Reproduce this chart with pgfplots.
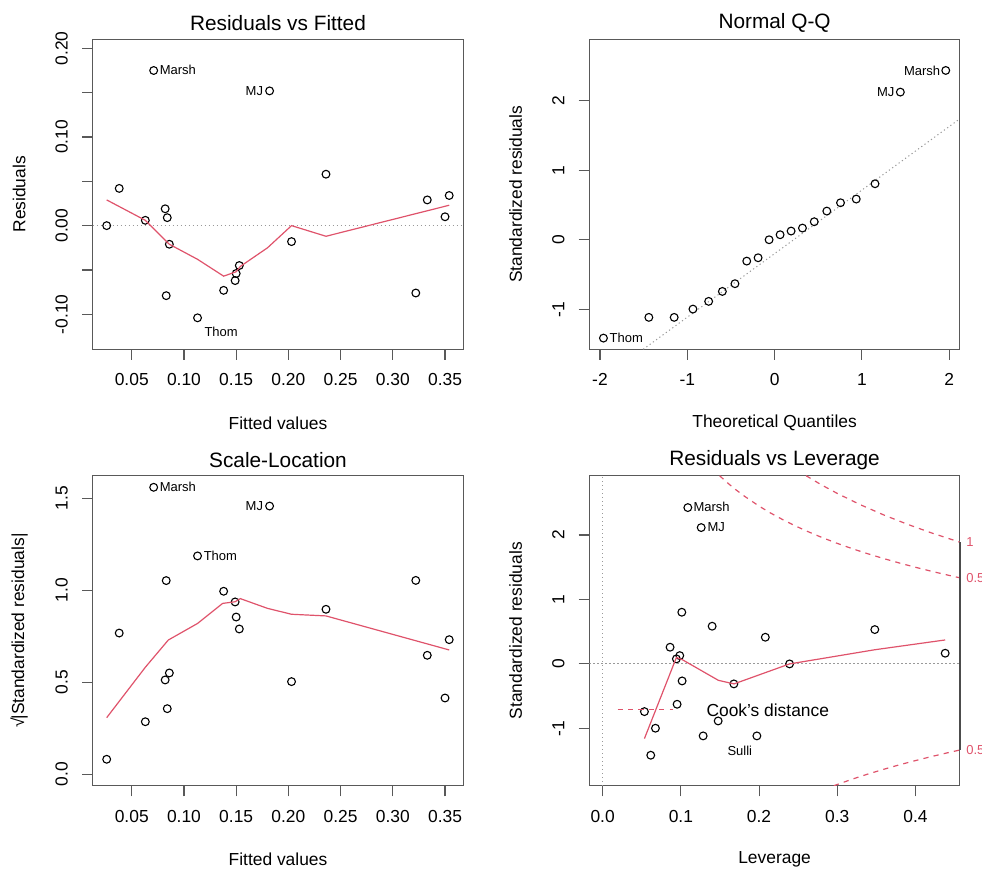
\documentclass[border=0pt]{standalone}
\usepackage{fontspec}
\setmainfont{Liberation Sans}
\usepackage{pgfplots}
\pgfplotsset{compat=1.18}
\definecolor{rred}{HTML}{DF536B}
\newcommand{\idf}{\fontsize{6.5}{7}\selectfont}
\newcommand{\basef}{\fontsize{8.7}{10}\selectfont}
\newcommand{\titf}{\fontsize{10.4}{12}\selectfont}
\pgfplotsset{
 rplot/.style={
  scale only axis, width=185.3pt, height=155pt,
  clip mode=individual,
  axis line style={black!65, line width=0.55pt},
  tick style={black!65, line width=0.55pt},
  tick align=outside, major tick length=5.3pt,
  xtick pos=lower, ytick pos=left,
  ticklabel style={font=\basef, inner sep=0pt},
  xticklabel style={anchor=center, yshift=-10pt},
  yticklabel style={anchor=center, xshift=-10.2pt, rotate=90},
 },
 pts/.style={only marks, mark=o, mark size=1.95pt, mark options={line width=0.55pt, black}},
 low/.style={rred, line width=0.6pt, no marks},
 ref/.style={black!40, line width=0.5pt, dash pattern=on 0.6pt off 1.4pt},
 cook/.style={rred, line width=0.6pt, dash pattern=on 2.6pt off 2.6pt, no marks},
}
\begin{document}
\begin{tikzpicture}
\useasboundingbox (0,0) rectangle (491pt,-435.5pt);
% ---------- Residuals vs Fitted
\begin{axis}[rplot, at={(46.35pt,-19.65pt)}, anchor=north west,
  xmin=0.0126, xmax=0.3675, ymin=-0.1395, ymax=0.2102,
  xtick={0.05,0.10,...,0.36}, xticklabels={0.05,0.10,0.15,0.20,0.25,0.30,0.35},
  ytick={-0.10,-0.05,0,0.05,0.10,0.15,0.20}, yticklabels={-0.10,,0.00,,0.10,,0.20}]
\addplot[ref] coordinates {(0.0126,0) (0.3675,0)};
\addplot[pts] table {
x y
0.026 0.000
0.038 0.042
0.063 0.006
0.082 0.019
0.084 0.009
0.086 -0.021
0.083 -0.079
0.071 0.175
0.113 -0.104
0.138 -0.073
0.149 -0.062
0.150 -0.054
0.153 -0.045
0.182 0.152
0.203 -0.018
0.236 0.058
0.322 -0.076
0.333 0.029
0.350 0.010
0.354 0.034
};
\addplot[low] coordinates {(0.026,0.029) (0.063,0.006) (0.086,-0.021) (0.113,-0.038) (0.138,-0.057) (0.150,-0.052) (0.154,-0.046) (0.180,-0.025) (0.203,0.000) (0.236,-0.012) (0.354,0.023)};
\node[font=\idf, anchor=west, inner sep=0pt] at (axis cs:0.0765,0.1752) {Marsh};
\node[font=\idf, anchor=east, inner sep=0pt] at (axis cs:0.1761,0.1519) {MJ};
\node[font=\idf, anchor=west, inner sep=0pt] at (axis cs:0.1193,-0.1203) {Thom};
\node[font=\titf, yshift=8.3pt] at (rel axis cs:0.5,1) {Residuals vs Fitted};
\node[font=\basef, yshift=-37pt] at (rel axis cs:0.5,0) {Fitted values};
\node[font=\basef, xshift=-36.8pt, rotate=90] at (rel axis cs:0,0.5) {Residuals};
\end{axis}
% ---------- Normal Q-Q
\begin{axis}[rplot, at={(294.65pt,-19.65pt)}, anchor=north west,
  xmin=-2.122, xmax=2.122, ymin=-1.575, ymax=2.882,
  xtick={-2,-1,0,1,2}, xticklabels={-2,-1,0,1,2},
  ytick={-1,0,1,2}, yticklabels={-1,0,1,2}]
\addplot[ref] coordinates {(-1.505,-1.575) (2.122,1.740)};
\addplot[pts] table {
x y
-1.960 -1.414
-1.440 -1.116
-1.150 -1.116
-0.935 -0.997
-0.755 -0.886
-0.598 -0.743
-0.454 -0.632
-0.319 -0.307
-0.189 -0.259
-0.063 0.000
0.063 0.072
0.189 0.125
0.319 0.168
0.454 0.259
0.598 0.412
0.755 0.532
0.935 0.585
1.150 0.805
1.440 2.123
1.960 2.434
};
\node[font=\idf, anchor=east, inner sep=0pt] at (axis cs:1.901,2.434) {Marsh};
\node[font=\idf, anchor=east, inner sep=0pt] at (axis cs:1.377,2.123) {MJ};
\node[font=\idf, anchor=west, inner sep=0pt] at (axis cs:-1.893,-1.405) {Thom};
\node[font=\titf, yshift=8.3pt] at (rel axis cs:0.5,1) {Normal Q-Q};
\node[font=\basef, yshift=-37pt] at (rel axis cs:0.5,0) {Theoretical Quantiles};
\node[font=\basef, xshift=-36.8pt, rotate=90] at (rel axis cs:0,0.5) {Standardized residuals};
\end{axis}
% ---------- Scale-Location
\begin{axis}[rplot, at={(46.35pt,-237.85pt)}, anchor=north west,
  xmin=0.0126, xmax=0.3675, ymin=-0.0616, ymax=1.623,
  xtick={0.05,0.10,...,0.36}, xticklabels={0.05,0.10,0.15,0.20,0.25,0.30,0.35},
  ytick={0,0.5,1,1.5}, yticklabels={0.0,0.5,1.0,1.5}]
\addplot[pts] table {
x y
0.026 0.082
0.038 0.768
0.063 0.286
0.083 1.053
0.082 0.513
0.084 0.357
0.086 0.551
0.071 1.560
0.113 1.187
0.138 0.995
0.149 0.937
0.150 0.855
0.153 0.790
0.182 1.458
0.203 0.504
0.236 0.897
0.322 1.054
0.333 0.647
0.350 0.415
0.354 0.732
};
\addplot[low] coordinates {(0.026,0.308) (0.063,0.582) (0.085,0.730) (0.113,0.820) (0.137,0.929) (0.149,0.938) (0.154,0.955) (0.180,0.902) (0.203,0.870) (0.236,0.861) (0.354,0.676)};
\node[font=\idf, anchor=west, inner sep=0pt] at (axis cs:0.0765,1.562) {Marsh};
\node[font=\idf, anchor=east, inner sep=0pt] at (axis cs:0.1761,1.458) {MJ};
\node[font=\idf, anchor=west, inner sep=0pt] at (axis cs:0.1186,1.187) {Thom};
\node[font=\titf, yshift=8.0pt] at (rel axis cs:0.5,1) {Scale-Location};
\node[font=\basef, yshift=-37pt] at (rel axis cs:0.5,0) {Fitted values};
\node[font=\basef, xshift=-36.8pt, rotate=90] at (rel axis cs:0,0.5) {√\kern-0.5pt\textbar Standardized residuals\textbar};
\end{axis}
% ---------- Residuals vs Leverage
\begin{axis}[rplot, at={(294.65pt,-237.85pt)}, anchor=north west,
  xmin=-0.01708, xmax=0.4568, ymin=-1.890, ymax=2.921,
  xtick={0,0.1,0.2,0.3,0.4}, xticklabels={0.0,0.1,0.2,0.3,0.4},
  ytick={-1,0,1,2}, yticklabels={-1,0,1,2}]
\addplot[ref] coordinates {(-0.01708,0) (0.4568,0)};
\addplot[ref] coordinates {(0,-1.890) (0,2.921)};
\addplot[cook] coordinates {(0.1495,2.921) (0.16,2.806) (0.17,2.706) (0.18,2.614) (0.20,2.449) (0.215,2.340) (0.23,2.241) (0.245,2.150) (0.26,2.066) (0.28,1.964) (0.30,1.871) (0.32,1.785) (0.34,1.706) (0.36,1.633) (0.38,1.564) (0.40,1.500) (0.42,1.439) (0.44,1.382) (0.4568,1.336)};
\addplot[cook] coordinates {(0.2601,2.921) (0.28,2.777) (0.30,2.646) (0.33,2.468) (0.36,2.309) (0.39,2.166) (0.42,2.035) (0.4568,1.889)};
\addplot[cook] coordinates {(0.2957,-1.890) (0.30,-1.871) (0.32,-1.785) (0.34,-1.706) (0.36,-1.633) (0.38,-1.564) (0.40,-1.500) (0.42,-1.439) (0.44,-1.382) (0.4568,-1.336)};
\addplot[pts] table {
x y
0.1089 2.426
0.126 2.116
0.1012 0.802
0.140 0.585
0.208 0.414
0.348 0.533
0.438 0.166
0.0862 0.259
0.0986 0.129
0.0943 0.078
0.1016 -0.264
0.239 0.000
0.1678 -0.310
0.0952 -0.626
0.0534 -0.740
0.1477 -0.885
0.0675 -0.998
0.1285 -1.117
0.1972 -1.117
0.0615 -1.417
};
\addplot[low] coordinates {(0.0534,-1.159) (0.0943,0.100) (0.102,0.065) (0.148,-0.255) (0.168,-0.310) (0.239,0.000) (0.348,0.220) (0.438,0.372)};
\addplot[cook] coordinates {(0.0192,-0.7036) (0.0896,-0.7036)};
\draw[black!70, line width=0.85pt] (axis cs:0.4568,-1.336) -- (axis cs:0.4568,1.889);
\node[font=\basef, anchor=west, inner sep=0pt] at (axis cs:0.1323,-0.712) {Cook's distance};
\node[font=\idf, anchor=west, inner sep=0pt] at (axis cs:0.1157,2.437) {Marsh};
\node[font=\idf, anchor=west, inner sep=0pt] at (axis cs:0.1336,2.126) {MJ};
\node[font=\idf, anchor=west, inner sep=0pt] at (axis cs:0.1592,-1.350) {Sulli};
\node[font=\idf, text=rred, anchor=west, inner sep=0pt, xshift=3pt] at (axis cs:0.4568,1.889) {1};
\node[font=\idf, text=rred, anchor=west, inner sep=0pt, xshift=3pt] at (axis cs:0.4568,1.336) {0.5};
\node[font=\idf, text=rred, anchor=west, inner sep=0pt, xshift=3pt] at (axis cs:0.4568,-1.336) {0.5};
\node[font=\titf, yshift=8.0pt] at (rel axis cs:0.5,1) {Residuals vs Leverage};
\node[font=\basef, yshift=-37pt] at (rel axis cs:0.5,0) {Leverage};
\node[font=\basef, xshift=-36.8pt, rotate=90] at (rel axis cs:0,0.5) {Standardized residuals};
\end{axis}
\end{tikzpicture}
\end{document}
